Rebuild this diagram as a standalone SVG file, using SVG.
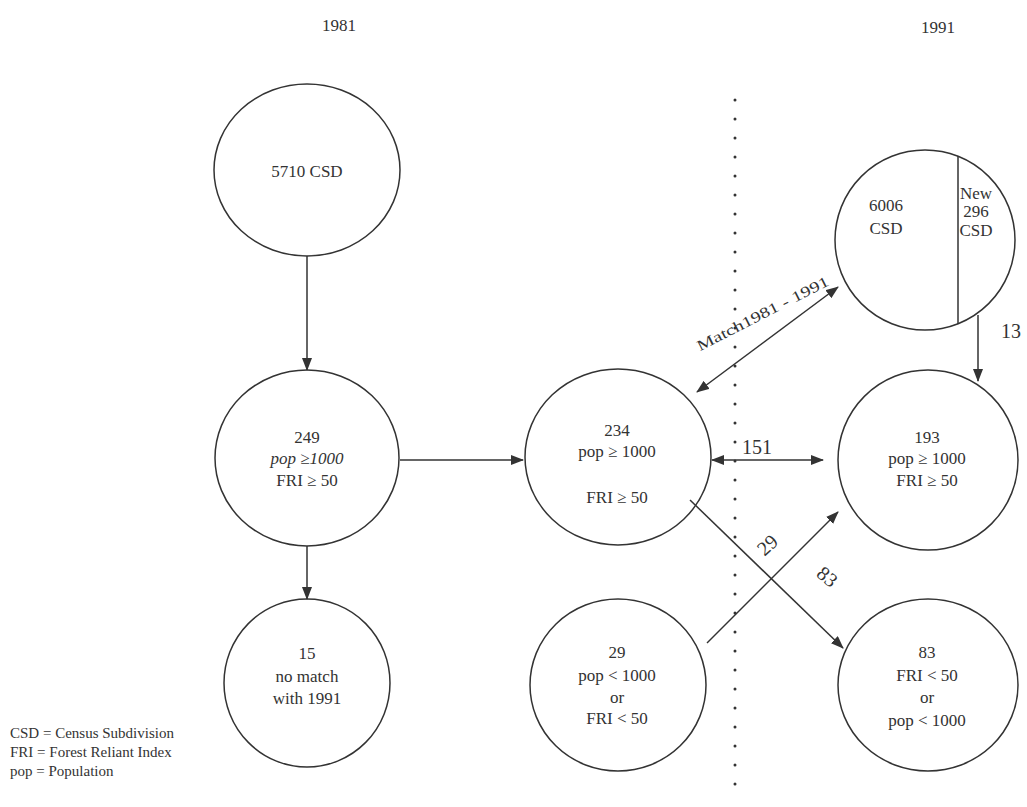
<svg xmlns="http://www.w3.org/2000/svg" width="1027" height="807" viewBox="0 0 1027 807">
<style>
.n{fill:#fff;stroke:#333;stroke-width:1.5}
.t{font-family:"Liberation Serif",serif;font-size:17px;fill:#333;text-anchor:middle}
.l{font-family:"Liberation Serif",serif;font-size:20px;fill:#333;text-anchor:middle}
.s{font-family:"Liberation Serif",serif;font-size:15px;fill:#333}
.c{stroke:#333;stroke-width:1.5;fill:none}
</style>
<defs>
<marker id="ah" viewBox="0 0 13 10" refX="12" refY="5" markerWidth="13" markerHeight="10" markerUnits="userSpaceOnUse" orient="auto-start-reverse">
<path d="M0,0 L13,5 L0,10 z" fill="#333"/>
</marker>
</defs>
<rect width="1027" height="807" fill="#fff"/>
<text class="t" x="339" y="31" font-size="16">1981</text>
<text class="t" x="938" y="33" font-size="16">1991</text>
<line x1="735" y1="100" x2="735" y2="800" stroke="#333" stroke-width="3" stroke-linecap="round" stroke-dasharray="0 19"/>
<g id="n5710">
<ellipse class="n" cx="307" cy="170" rx="93" ry="86"/>
<text class="t" x="307" y="177" font-size="19">5710 CSD</text>
</g>
<g id="n249">
<ellipse class="n" cx="307" cy="458" rx="92" ry="88"/>
<text class="t" x="307" y="443">249</text>
<text class="t" x="307" y="464" font-style="italic">pop ≥1000</text>
<text class="t" x="307" y="486">FRI ≥ 50</text>
</g>
<g id="n15">
<ellipse class="n" cx="307" cy="683" rx="83" ry="84"/>
<text class="t" x="307" y="659">15</text>
<text class="t" x="307" y="682">no match</text>
<text class="t" x="307" y="704">with 1991</text>
</g>
<g id="n234">
<ellipse class="n" cx="618" cy="457" rx="93" ry="88"/>
<text class="t" x="617" y="436">234</text>
<text class="t" x="617" y="457">pop ≥ 1000</text>
<text class="t" x="617" y="503">FRI ≥ 50</text>
</g>
<g id="n29">
<ellipse class="n" cx="618" cy="685" rx="88" ry="86"/>
<text class="t" x="617" y="658">29</text>
<text class="t" x="617" y="681">pop &lt; 1000</text>
<text class="t" x="617" y="703">or</text>
<text class="t" x="617" y="724">FRI &lt; 50</text>
</g>
<g id="n6006">
<ellipse class="n" cx="925" cy="240" rx="90" ry="90"/>
<line class="c" x1="958" y1="156" x2="958" y2="324" stroke-width="1.2"/>
<text class="t" x="886" y="211" font-size="18">6006</text>
<text class="t" x="886" y="234" font-size="18">CSD</text>
<text class="t" x="976" y="199" font-size="15" text-anchor="start">New</text>
<text class="t" x="976" y="217" font-size="15" text-anchor="start">296</text>
<text class="t" x="976" y="236" font-size="15" text-anchor="start">CSD</text>
</g>
<g id="n193">
<ellipse class="n" cx="928" cy="460" rx="90" ry="90"/>
<text class="t" x="927" y="443">193</text>
<text class="t" x="927" y="464">pop ≥ 1000</text>
<text class="t" x="927" y="486">FRI ≥ 50</text>
</g>
<g id="n83">
<ellipse class="n" cx="928" cy="685" rx="90" ry="86"/>
<text class="t" x="927" y="658">83</text>
<text class="t" x="927" y="681">FRI &lt; 50</text>
<text class="t" x="927" y="703">or</text>
<text class="t" x="927" y="726">pop &lt; 1000</text>
</g>
<g id="connectors">
<line class="c" x1="307" y1="256" x2="307" y2="370" marker-end="url(#ah)"/>
<line class="c" x1="307" y1="546" x2="307" y2="599" marker-end="url(#ah)"/>
<line class="c" x1="400" y1="460" x2="523" y2="460" marker-end="url(#ah)"/>
<line class="c" x1="978" y1="315" x2="978" y2="381" marker-end="url(#ah)"/>
<line class="c" x1="697" y1="392" x2="838" y2="287" marker-start="url(#ah)" marker-end="url(#ah)"/>
<line class="c" x1="712" y1="460" x2="823" y2="460" marker-start="url(#ah)" marker-end="url(#ah)"/>
<line class="c" x1="707" y1="643" x2="838" y2="512" marker-end="url(#ah)"/>
<line class="c" x1="690" y1="500" x2="843" y2="648" marker-end="url(#ah)"/>
<text class="s" x="765" y="318" font-size="17" text-anchor="middle" textLength="146" lengthAdjust="spacingAndGlyphs" transform="rotate(-27 765 318)">Match1981 - 1991</text>
<text class="l" x="757" y="454" font-size="20">151</text>
<text class="l" x="772" y="550" font-size="20" transform="rotate(-42 772 550)">29</text>
<text class="l" x="823" y="582" font-size="20" transform="rotate(40 823 582)">83</text>
<text class="l" x="1011" y="338" font-size="21">13</text>
</g>
<g id="legend">
<text class="s" x="10" y="738">CSD = Census Subdivision</text>
<text class="s" x="10" y="757">FRI = Forest Reliant Index</text>
<text class="s" x="10" y="776">pop = Population</text>
</g>
</svg>
